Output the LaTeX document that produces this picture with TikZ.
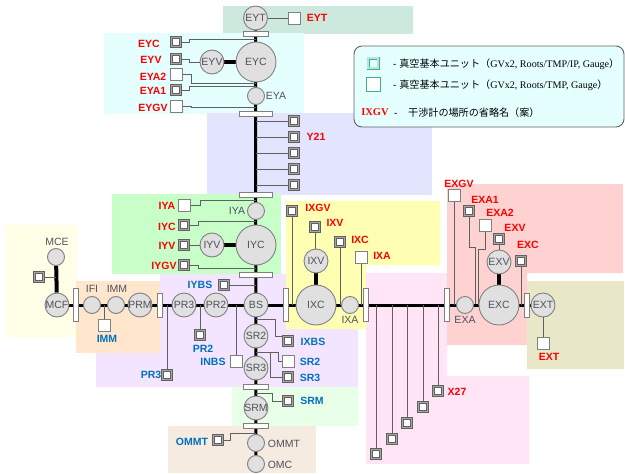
\documentclass[tikz,border=0pt]{standalone}
\usepackage{fontspec}
\setmainfont{Liberation Sans}
\newfontfamily\serifnum{Liberation Serif}
\newfontfamily\jpfont{Noto Sans CJK JP}
\usetikzlibrary{backgrounds,calc}
\definecolor{cTop}{HTML}{CDE8DC}
\definecolor{cEY}{HTML}{E5FFFF}
\definecolor{cArm}{HTML}{E3E5FF}
\definecolor{cIY}{HTML}{C8FFC8}
\definecolor{cIX}{HTML}{FFFFB4}
\definecolor{cCtr}{HTML}{F3E5FF}
\definecolor{cIMM}{HTML}{FFE6CC}
\definecolor{cMC}{HTML}{FFFFE8}
\definecolor{cSRM}{HTML}{E8FFE8}
\definecolor{cOM}{HTML}{F5EBE1}
\definecolor{cXarm}{HTML}{FFE5F6}
\definecolor{cEX}{HTML}{FFD2D2}
\definecolor{cEXT}{HTML}{E8E8C8}
\definecolor{cVac}{HTML}{E0E0E0}
\definecolor{cRim}{HTML}{808080}
\definecolor{cInk}{HTML}{50505C}
\definecolor{cSig}{HTML}{606060}
\definecolor{cRed}{HTML}{FF0000}
\definecolor{cBlue}{HTML}{0070C0}
\definecolor{cKey}{HTML}{3FAF8F}
\tikzset{
  vac/.style={circle, draw=cRim, fill=cVac, line width=0.9pt, inner sep=-5pt,
              text=cInk, font=\fontsize{10.5}{12}\selectfont},
  vbig/.style={vac, minimum size=40pt},
  vmid/.style={vac, minimum size=24pt},
  vsml/.style={vac, minimum size=17pt},
  plainbox/.style={rectangle, draw=cRim, fill=white, line width=0.9pt, minimum size=12pt, inner sep=0pt},
  ionbox/.style={rectangle, draw=cSig, fill=white, line width=0.8pt, double=cRim!70,
                 double distance=1.4pt, minimum size=9pt, inner sep=0pt},
  hflange/.style={rectangle, draw=cRim, fill=white, line width=0.8pt, minimum height=5pt, inner sep=0pt},
  vflange/.style={rectangle, draw=cRim, fill=white, line width=0.8pt, minimum width=5pt, inner sep=0pt},
  redlab/.style={text=cRed, font=\fontsize{10.5}{12}\bfseries, inner sep=0pt},
  bluelab/.style={text=cBlue, font=\fontsize{10.5}{12}\bfseries, inner sep=0pt},
  graylab/.style={text=cInk, font=\fontsize{10.5}{12}\selectfont, inner sep=0pt},
  keytxt/.style={text=black, font=\fontsize{10.1}{12}\selectfont, inner sep=0pt, anchor=base west},
  beam/.style={draw=black, line width=3pt},
  branch/.style={draw=black, line width=4pt},
  sig/.style={draw=cSig, line width=0.9pt},
}
\begin{document}
\begin{tikzpicture}[x=1pt,y=-1pt]
\useasboundingbox (0,0) rectangle (625,474);

% ------------------------------------------------------------ the coloured areas
\begin{scope}[on background layer]
\fill[cTop] (223,6) rectangle (413,34);
\fill[cEY] (104,33) rectangle (304,114);
\fill[cArm] (207,113) rectangle (432,195);
\fill[cIY] (112,194) rectangle (281,274);
\fill[cMC] (6,225) rectangle (77,337);
\fill[cCtr] (160,274) -- (286,274) -- (286,329) -- (358,329) -- (358,387) -- (96,387) -- (96,353) -- (160,353) -- cycle;
\fill[cIMM] (76,281) rectangle (160,353);
\fill[cIX] (286,201) -- (440,201) -- (440,265) -- (366,265) -- (366,329) -- (286,329) -- cycle;
\fill[cSRM] (232,387) rectangle (358,426);
\fill[cOM] (168,426) rectangle (316,473);
\fill[cXarm] (366,273) -- (447,273) -- (447,376) -- (529,376) -- (529,464) -- (366,464) -- cycle;
\fill[cEX] (447,184) -- (623,184) -- (623,273) -- (527,273) -- (527,345) -- (447,345) -- cycle;
\fill[cEXT] (527,281) rectangle (624,369);
\end{scope}

% ------------------------------------------------------------ legend
\node[draw=cSig, fill=cEY, rounded corners=8pt, line width=0.9pt, minimum width=270pt,
      minimum height=81pt, inner sep=0pt] (legend) at (489,86.5) {};
\node[rectangle, draw=cKey, fill=cEY, line width=0.9pt, double=cEY!70!cKey, double distance=1.2pt,
      minimum size=10pt, inner sep=0pt] (keyion) at (373,63) {};
\node[rectangle, draw=cKey, fill=white, line width=0.9pt, minimum size=14pt, inner sep=0pt] (keyplain) at (373,84) {};
\node[keytxt] (keyiontxt) at (393,67)
      {- {\jpfont 真空基本ユニット（}{\serifnum GVx2, Roots/TMP/IP, Gauge}{\jpfont ）}};
\node[keytxt] (keyplaintxt) at (393,88)
      {- {\jpfont 真空基本ユニット（}{\serifnum GVx2, Roots/TMP, Gauge}{\jpfont ）}};
\node[text=cRed, font=\fontsize{10.5}{12}\serifnum\bfseries, inner sep=0pt] (keyname) at (375,112) {IXGV};
\node[keytxt] (keydash) at (394,116) {-};
\node[keytxt] (keynametxt) at (408,116) {\jpfont 干渉計の場所の省略名（案）};

% ------------------------------------------------------------ Y end
\node[vmid] (EYT) at (255.5,18) {EYT};
\node[plainbox] (bEYT) at (294,18) {};
\node[redlab] (tEYT) at (317,18) {EYT};
\node[hflange, minimum width=25pt] (flEYT) at (255.5,33.5) {};
\node[vbig] (EYC) at (256,62) {EYC};
\node[vmid] (EYV) at (212,62) {EYV};
\node[vsml] (EYA) at (256,96) {};
\node[graylab] (lEYA) at (276,96) {EYA};
\node[hflange, minimum width=33pt] (flEYA) at (255.5,113.5) {};

\node[ionbox] (bEYC) at (176,42) {};
\node[ionbox] (bEYV) at (176,59) {};
\node[plainbox] (bEYA2) at (176,74) {};
\node[ionbox] (bEYA1) at (176,90) {};
\node[plainbox] (bEYGV) at (176,106) {};
\node[redlab] (tEYC) at (149,44) {EYC};
\node[redlab] (tEYV) at (151,60) {EYV};
\node[redlab] (tEYA2) at (153,77) {EYA2};
\node[redlab] (tEYA1) at (153,91) {EYA1};
\node[redlab] (tEYGV) at (153,108) {EYGV};

% ------------------------------------------------------------ Y arm
\node[ionbox] (bY1) at (294,121) {};
\node[ionbox] (bY2) at (294,137) {};
\node[ionbox] (bY3) at (294,153) {};
\node[ionbox] (bY4) at (294,169) {};
\node[ionbox] (bY5) at (294,185) {};
\node[redlab] (tY21) at (316,137) {Y21};
\node[hflange, minimum width=33pt] (flY) at (255.5,194.5) {};

% ------------------------------------------------------------ IY chamber
\node[vsml] (IYA) at (256,211) {};
\node[graylab] (lIYA) at (237,211) {IYA};
\node[vbig] (IYC) at (256,245) {IYC};
\node[vmid] (IYV) at (212,245) {IYV};
\node[hflange, minimum width=33pt] (flIY) at (255.5,274.5) {};
\node[plainbox] (bIYA) at (184,205) {};
\node[ionbox] (bIYC) at (184,225) {};
\node[ionbox] (bIYV) at (184,245) {};
\node[ionbox] (bIYGV) at (184,265) {};
\node[redlab] (tIYA) at (167,206) {IYA};
\node[redlab] (tIYC) at (167,227) {IYC};
\node[redlab] (tIYV) at (167,246) {IYV};
\node[redlab] (tIYGV) at (164,266) {IYGV};
\node[ionbox] (bIYBS) at (224,285) {};
\node[bluelab] (tIYBS) at (200,285) {IYBS};

% ------------------------------------------------------------ main line, left part
\node[vmid] (MCF) at (57,305) {MCF};
\node[vsml] (MCE) at (56,257) {};
\node[graylab] (lMCE) at (57,242) {MCE};
\node[ionbox] (bMCE) at (39,277) {};
\node[vflange, minimum height=33pt] (flMC) at (76,305) {};
\node[vsml] (IFI) at (92,305) {};
\node[graylab] (lIFI) at (92,289) {IFI};
\node[vsml] (IMM) at (116,305) {};
\node[graylab] (lIMM) at (117,289) {IMM};
\node[plainbox] (bIMM) at (104,325) {};
\node[bluelab] (tIMM) at (107,339) {IMM};
\node[vmid] (PRM) at (140,305) {PRM};
\node[vflange, minimum height=24pt] (flPR) at (160,305) {};
\node[vmid] (PR3) at (184,305) {PR3};
\node[vmid] (PR2) at (216,305) {PR2};
\node[vmid] (BS) at (256,305) {BS};
\node[ionbox] (bPR3) at (167,375) {};
\node[bluelab] (tPR3) at (151,375) {PR3};
\node[ionbox] (bPR2) at (200,335) {};
\node[bluelab] (tPR2) at (203,349) {PR2};
\node[plainbox] (bINBS) at (236,361) {};
\node[bluelab] (tINBS) at (213,362) {INBS};

% ------------------------------------------------------------ central column below BS
\node[vmid] (SR2) at (256,336) {SR2};
\node[vmid] (SR3) at (256,368) {SR3};
\node[hflange, minimum width=25pt] (flSR) at (256,386.5) {};
\node[vmid] (SRM) at (256,408) {SRM};
\node[hflange, minimum width=25pt] (flSRM) at (256,426) {};
\node[vsml] (OMMT) at (256,443) {};
\node[graylab] (lOMMT) at (284,444) {OMMT};
\node[vsml] (OMC) at (256,464) {};
\node[graylab] (lOMC) at (280,465) {OMC};
\node[ionbox] (bIXBS) at (288,341) {};
\node[bluelab] (tIXBS) at (313,342) {IXBS};
\node[plainbox] (bSR2) at (288,361) {};
\node[bluelab] (tSR2) at (310,362) {SR2};
\node[ionbox] (bSR3) at (288,377) {};
\node[bluelab] (tSR3) at (310,378) {SR3};
\node[ionbox] (bSRM) at (288,401) {};
\node[bluelab] (tSRM) at (312,401) {SRM};
\node[ionbox] (bOMMT) at (218,440) {};
\node[bluelab] (tOMMT) at (192,442) {OMMT};

% ------------------------------------------------------------ X arm
\node[vflange, minimum height=33pt] (flIXa) at (286,305) {};
\node[vbig] (IXC) at (316,305) {IXC};
\node[vmid] (IXV) at (316,261) {IXV};
\node[vsml] (IXA) at (350,305) {};
\node[graylab] (lIXA) at (350,320) {IXA};
\node[vflange, minimum height=33pt] (flIXb) at (366,305) {};
\node[ionbox] (bIXGV) at (292,211) {};
\node[ionbox] (bIXV) at (315,227) {};
\node[ionbox] (bIXC) at (340,242) {};
\node[plainbox] (bIXA) at (361,257) {};
\node[redlab] (tIXGV) at (318,208) {IXGV};
\node[redlab] (tIXV) at (335,223) {IXV};
\node[redlab] (tIXC) at (360,240) {IXC};
\node[redlab] (tIXA) at (382,256) {IXA};

\node[ionbox] (bX1) at (376,454) {};
\node[ionbox] (bX2) at (392,439) {};
\node[ionbox] (bX3) at (407,423) {};
\node[ionbox] (bX4) at (423,407) {};
\node[ionbox] (bX5) at (438,391) {};
\node[redlab] (tX27) at (457,392) {X27};

% ------------------------------------------------------------ X end
\node[vflange, minimum height=33pt] (flEX) at (447,305) {};
\node[vsml] (EXA) at (465,305) {};
\node[graylab] (lEXA) at (465,320) {EXA};
\node[vbig] (EXC) at (499,305) {EXC};
\node[vmid] (EXV) at (499,262) {EXV};
\node[vflange, minimum height=24pt] (flEXT) at (527,305) {};
\node[vmid] (EXT) at (543,305) {EXT};
\node[plainbox] (bEXGV) at (454,195) {};
\node[ionbox] (bEXA1) at (469,211) {};
\node[plainbox] (bEXA2) at (485,225) {};
\node[ionbox] (bEXV) at (499,239) {};
\node[ionbox] (bEXC) at (521,261) {};
\node[plainbox] (bEXT) at (543,343) {};
\node[redlab] (tEXGV) at (459,184) {EXGV};
\node[redlab] (tEXA1) at (485,200) {EXA1};
\node[redlab] (tEXA2) at (500,213) {EXA2};
\node[redlab] (tEXV) at (515,228) {EXV};
\node[redlab] (tEXC) at (528,245) {EXC};
\node[redlab] (tEXT) at (549,357) {EXT};

% ------------------------------------------------------------ beam and signal lines
\begin{scope}[on background layer]
\draw[beam] (EYT) -- (OMC);
\draw[beam] (MCF) -- (EXT);
\draw[branch] (EYV) -- (EYC);
\draw[branch] (IYV) -- (IYC);
\draw[branch] (IXV) -- (IXC);
\draw[branch] (EXV) -- (EXC);
\draw[branch] (MCE) -- (MCF);

\draw[sig] (EYT) -- (bEYT);
\draw[sig] (bEYC.east) -- ++(9,0) |- ($(flEYT.south)+(0,3)$);
\draw[sig] (bEYV.east) -- ++(9,0) |- (EYV);
\draw[sig] (bEYA2.east) -- ++(9,0) |- ($(EYC.south)+(0,1)$);
\draw[sig] (bEYA1.east) -- ++(9,0) |- ($(EYC.south)+(0,4)$);
\draw[sig] (bEYGV.east) -- ++(9,0) |- ($(flEYA.north)+(0,-3)$);

\draw[sig] (EYC |- bY1) -- (bY1);
\draw[sig] (EYC |- bY2) -- (bY2);
\draw[sig] (EYC |- bY3) -- (bY3);
\draw[sig] (EYC |- bY4) -- (bY4);
\draw[sig] (EYC |- bY5) -- (bY5);

\draw[sig] (bIYA.east) -- ++(10,0) |- ($(IYA.north)+(0,-1.5)$);
\draw[sig] (bIYC.east) -- ++(10,0) |- ($(IYC.north)+(0,-3)$);
\draw[sig] (bIYV) -- (IYV);
\draw[sig] (bIYGV.east) -- ++(10,0) |- ($(IYC.south)+(0,3)$);
\draw[sig] (bIYBS) -- (BS |- bIYBS);

\draw[sig] (bMCE) -- (MCE |- bMCE);
\draw[sig] (bIMM) -- (bIMM |- IMM);
\draw[sig] (bPR3) -- (bPR3 |- PR3);
\draw[sig] (bPR2) -- (bPR2 |- PR2);
\draw[sig] (bINBS) -- (bINBS |- BS);

\draw[sig] ($(SR2.north)+(0,-4)$) -- ++(19,0) |- (bIXBS.north west);
\draw[sig] ($(SR2.south)+(0,4)$) -- ++(22,0) |- (bSR2.west);
\draw[sig] ($(SR2.south)+(0,4)$) -- ++(14,0) |- (bSR3.west);
\draw[sig] ($(flSR.south)+(0,4)$) -- ++(16,0) |- (bSRM.west);
\draw[sig] (bOMMT.east) -- ++(8,0) |- ($(OMMT.north)+(0,-0.5)$);

\draw[sig] (bIXGV) -- (bIXGV |- IXC);
\draw[sig] (bIXV) -- (bIXV |- IXV.north);
\draw[sig] (bIXC) -- (bIXC |- IXC);
\draw[sig] (bIXA) -- (bIXA |- IXC);
\draw[sig] (bX1) -- (bX1 |- IXC);
\draw[sig] (bX2) -- (bX2 |- IXC);
\draw[sig] (bX3) -- (bX3 |- IXC);
\draw[sig] (bX4) -- (bX4 |- IXC);
\draw[sig] (bX5) -- (bX5 |- IXC);

\draw[sig] (bEXGV) -- (bEXGV |- EXC);
\draw[sig] (bEXA1.south) -- ++(0,32) -- ++(6,0) -- ++(0,56);
\draw[sig] (bEXA2.south) -- ++(0,18) -- ++(-7,0) -- ++(0,56);
\draw[sig] (bEXV) -- (EXV);
\draw[sig] (bEXC) -- (bEXC |- EXC);
\draw[sig] (EXT) -- (bEXT);
\end{scope}

\end{tikzpicture}
\end{document}
